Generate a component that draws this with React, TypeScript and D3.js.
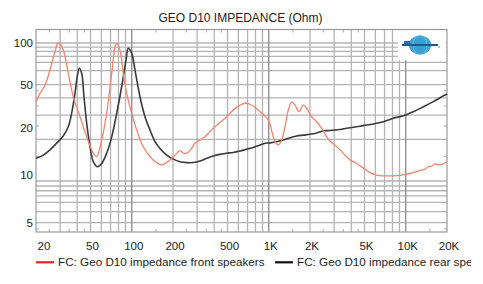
import React, { useEffect, useRef } from 'react';
import * as d3 from 'd3';

// frequency (Hz) / impedance (Ohm)
const frontFreq = [20, 21.4, 23.3, 25.3, 27.5, 29.1, 31.6, 34.4, 37.4, 41.9, 46.9, 52.4, 55.5, 60.3, 65.6, 71.4, 75.5, 77.6, 82, 86.7, 91.8, 99.9, 108.7, 121.4, 143.6, 165, 190, 207, 225, 238, 252, 274, 289, 315, 342, 372, 405, 441, 479, 521, 567, 617, 671, 730, 794, 863, 939, 992, 1033, 1079, 1129, 1174, 1243, 1314, 1389, 1471, 1554, 1662, 1787, 1892, 2058, 2239, 2434, 2648, 2799, 3045, 3313, 3604, 3920, 4385, 4903, 5484, 6138, 6859, 8110, 9078, 10160, 11360, 12700, 13820, 14600, 15460, 16350, 17280, 18300, 20000];
const frontOhm = [37.6, 43.2, 49.6, 63.7, 86.5, 100.5, 89, 60.3, 40.8, 29.2, 20.9, 15.9, 15.0, 19.8, 30.9, 60.3, 94, 99.5, 89, 60.3, 43.2, 30.9, 23.4, 17.7, 14.2, 13.1, 14.2, 15.4, 16.6, 15.9, 15.9, 17.3, 18.8, 19.8, 20.9, 22.8, 24.7, 26.5, 28.5, 30.9, 33.6, 35.5, 36.6, 36, 34.2, 31.8, 29.6, 27.7, 24.7, 20.9, 18.8, 18.2, 19.8, 24.7, 32.7, 37.6, 35.5, 31.8, 35.5, 33.6, 29.2, 26.9, 24.1, 20.9, 19.5, 18.2, 16.8, 15.4, 14.2, 13.4, 12.4, 11.5, 11.05, 10.9, 10.9, 11.0, 11.2, 11.5, 11.9, 12.2, 12.7, 12.8, 13.3, 13.1, 13.2, 13.8];

const rearFreq = [20, 22.6, 25.3, 28.3, 31.6, 34.4, 36.4, 38.5, 40, 41.4, 43.1, 44.8, 46.9, 49.6, 52.4, 56, 60.3, 65.6, 71.4, 77.6, 84.4, 90.8, 94.3, 99.9, 105.6, 114.8, 124.9, 135.9, 147.8, 160.7, 180, 201, 225, 252, 281, 315, 352, 394, 441, 493, 551, 617, 690, 771, 863, 939, 1021, 1143, 1277, 1429, 1599, 1787, 2000, 2239, 2501, 2799, 3313, 3707, 4141, 4903, 5794, 6859, 8110, 9594, 11360, 13430, 15900, 18300, 20000];
const rearOhm = [14.6, 15.4, 16.8, 18.8, 21.2, 24.7, 30.9, 43.2, 57, 65.6, 60.3, 40.8, 26.2, 17.7, 13.8, 12.7, 13.4, 15.9, 20.9, 30.9, 48.2, 75.3, 91.5, 84.2, 63.7, 40.8, 29.2, 23.4, 19.3, 17.2, 15.4, 14.4, 13.8, 13.6, 13.6, 13.96, 14.6, 15.2, 15.6, 15.9, 16.1, 16.5, 17.0, 17.5, 18.2, 18.8, 18.9, 19.3, 19.8, 20.6, 21.2, 21.5, 21.8, 22.3, 23.1, 23.2, 23.6, 24.1, 24.5, 25.2, 25.9, 26.9, 28.5, 29.7, 31.8, 34.5, 37.6, 40.8, 42.7];

const xTickValues = [20, 50, 100, 200, 500, 1000, 2000, 5000, 10000, 20000];
const xTickLabels = ['20', '50', '100', '200', '500', '1K', '2K', '5K', '10K', '20K'];
const yTickValues = [100, 50, 20, 10, 5];

const xGrid = [30, 40, 50, 60, 70, 80, 90, 100, 200, 300, 400, 500, 600, 700, 800, 900, 1000, 2000, 3000, 4000, 5000, 6000, 7000, 8000, 9000, 10000];
const yGrid = [100, 93.5, 87, 80, 72.5, 63, 50, 40, 30, 20, 10, 9.2, 8.5, 7.8, 7, 6, 5];
const xMinor = [25, 35, 45, 150, 250, 350, 450, 1500, 2500, 3500, 4500, 15000];
const yMinor = [4.5, 15, 25, 35, 45];

const title = 'GEO D10 IMPEDANCE (Ohm)';
const seriesNames = ['FC: Geo D10 impedance front speakers', 'FC: Geo D10 impedance rear speakers'];

const W = 483;
const H = 284;
const font = '"Liberation Sans", Arial, sans-serif';

function App() {
  const svgRef = useRef<SVGSVGElement>(null);

  useEffect(() => {
    const svg = d3.select(svgRef.current);
    svg.selectAll('*').remove();

    const left = 36, right = 447, top = 29.5, bottom = 232;
    const x = d3.scaleLog().domain([20, 20000]).range([left, right]);
    const y = d3.scaleLog().domain([4.27, 125.3]).range([bottom, top]);

    svg.append('rect').attr('width', W).attr('height', H).attr('fill', '#fff');

    // the legend strip is cut on the right in the original
    svg.append('defs').append('clipPath').attr('id', 'legclip')
      .append('rect').attr('x', 0).attr('y', 240).attr('width', 471).attr('height', 44);

    // grid
    const g = svg.append('g');
    g.selectAll('.hg').data(yGrid).enter().append('line')
      .attr('x1', left).attr('x2', right)
      .attr('y1', d => y(d)).attr('y2', d => y(d))
      .attr('stroke', '#b4b4b4').attr('stroke-width', 1.3);
    g.selectAll('.vg').data(xGrid).enter().append('line')
      .attr('x1', d => x(d)).attr('x2', d => x(d))
      .attr('y1', top).attr('y2', bottom)
      .attr('stroke', d => (d === 100 || d === 1000 || d === 10000) ? '#8a8a8a' : '#b4b4b4')
      .attr('stroke-width', 1.3);

    // minor ticks on the frame
    xMinor.forEach(d => {
      g.append('line').attr('x1', x(d)).attr('x2', x(d)).attr('y1', top).attr('y2', top + 3)
        .attr('stroke', '#aaa').attr('stroke-width', 1);
      g.append('line').attr('x1', x(d)).attr('x2', x(d)).attr('y1', bottom).attr('y2', bottom - 3)
        .attr('stroke', '#aaa').attr('stroke-width', 1);
    });
    yMinor.forEach(d => {
      g.append('line').attr('x1', left).attr('x2', left + 3).attr('y1', y(d)).attr('y2', y(d))
        .attr('stroke', '#aaa').attr('stroke-width', 1);
      g.append('line').attr('x1', right).attr('x2', right - 3).attr('y1', y(d)).attr('y2', y(d))
        .attr('stroke', '#aaa').attr('stroke-width', 1);
    });

    // logo box
    svg.append('rect').attr('x', 398).attr('y', top + 0.7).attr('width', right - 398 - 0.7).attr('height', 30)
      .attr('fill', '#fff');
    const logo = svg.append('g');
    logo.append('ellipse').attr('cx', 420).attr('cy', 45).attr('rx', 11).attr('ry', 9.5).attr('fill', '#3aa0d2');
    logo.append('ellipse').attr('cx', 420).attr('cy', 45).attr('rx', 7).attr('ry', 9.5).attr('fill', 'none')
      .attr('stroke', '#7cc3e6').attr('stroke-width', 0.8);
    logo.append('rect').attr('x', 402).attr('y', 44).attr('width', 36).attr('height', 2).attr('fill', '#1f5a8c');
    logo.append('rect').attr('x', 404).attr('y', 41).attr('width', 6).attr('height', 3).attr('fill', '#2b6fa6');
    logo.append('text').attr('x', 438).attr('y', 48).attr('font-size', 4).attr('fill', '#1f5a8c')
      .attr('font-family', font).text('s');

    // frame
    svg.append('rect').attr('x', left).attr('y', top).attr('width', right - left).attr('height', bottom - top)
      .attr('fill', 'none').attr('stroke', '#9a9a9a').attr('stroke-width', 1.2);

    // curves
    const line = d3.line<[number, number]>()
      .x(d => x(d[0])).y(d => y(d[1]))
      .curve(d3.curveCatmullRom.alpha(0.5));
    const front = frontFreq.map((f, i) => [f, frontOhm[i]] as [number, number]);
    const rear = rearFreq.map((f, i) => [f, rearOhm[i]] as [number, number]);

    svg.append('path').attr('d', line(rear)).attr('fill', 'none')
      .attr('stroke', '#3a3a3a').attr('stroke-width', 1.6);
    svg.append('path').attr('d', line(front)).attr('fill', 'none')
      .attr('stroke', '#f2846f').attr('stroke-width', 1.3);

    // axis labels
    svg.selectAll('.xl').data(xTickValues).enter().append('text')
      .attr('x', (d, i) => i === 0 ? x(d) + 8 : x(d) + 2)
      .attr('y', 249.5)
      .attr('text-anchor', 'middle')
      .attr('font-family', font).attr('font-size', 11.5).attr('fill', '#222')
      .text((d, i) => xTickLabels[i]);

    const yNudge: Record<number, number> = { 20: -12, 10: -6.5 };
    svg.selectAll('.yl').data(yTickValues).enter().append('text')
      .attr('x', 33)
      .attr('y', d => y(d) + (yNudge[d] || 0))
      .attr('dy', '0.36em')
      .attr('text-anchor', 'end')
      .attr('font-family', font).attr('font-size', 11.5).attr('fill', '#222')
      .text(d => String(d));

    // title
    svg.append('text').attr('x', 240.5).attr('y', 21.5).attr('text-anchor', 'middle')
      .attr('font-family', font).attr('font-size', 12).attr('fill', '#222').text(title);

    // legend
    const legendColors = ['#e52421', '#111'];
    const legendX = [36, 275];
    const leg = svg.append('g').attr('clip-path', 'url(#legclip)');
    seriesNames.forEach((name, i) => {
      leg.append('line').attr('x1', legendX[i]).attr('x2', legendX[i] + 18)
        .attr('y1', 262.3).attr('y2', 262.3)
        .attr('stroke', legendColors[i]).attr('stroke-width', 2.2);
      leg.append('text').attr('x', legendX[i] + 22).attr('y', 266.3)
        .attr('font-family', font).attr('font-size', 11.7).attr('fill', '#222').text(name);
    });
  }, []);

  return (
    <svg ref={svgRef} width={W} height={H}
      style={{ position: 'fixed', left: 0, top: 0, display: 'block' }} />
  );
}

export default App;
